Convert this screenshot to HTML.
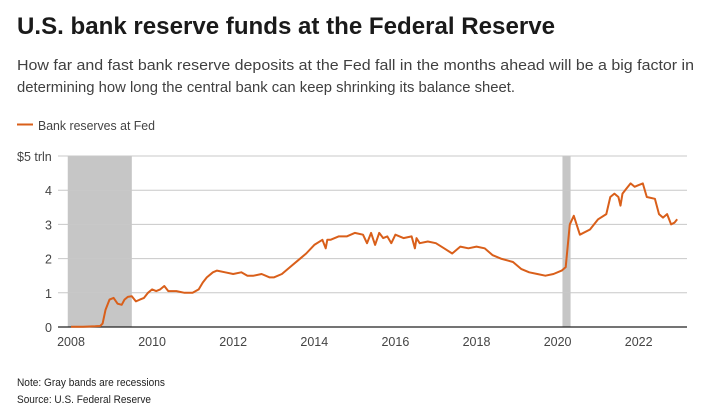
<!DOCTYPE html>
<html><head><meta charset="utf-8"><style>
html,body{margin:0;padding:0;background:#fff;}
svg{display:block;font-family:"Liberation Sans",sans-serif;}
</style></head><body>
<svg id="chart" width="705" height="417" xmlns="http://www.w3.org/2000/svg">
<text x="17" y="34" font-size="24" font-weight="bold" fill="#1a1a1a" textLength="538" lengthAdjust="spacingAndGlyphs">U.S. bank reserve funds at the Federal Reserve</text>
<text x="17" y="70" font-size="15" fill="#404040" textLength="677" lengthAdjust="spacingAndGlyphs">How far and fast bank reserve deposits at the Fed fall in the months ahead will be a big factor in</text>
<text x="17" y="92" font-size="15" fill="#404040" textLength="498" lengthAdjust="spacingAndGlyphs">determining how long the central bank can keep shrinking its balance sheet.</text>
<line x1="17" y1="124.5" x2="33" y2="124.5" stroke="#d95f1a" stroke-width="2"/>
<text x="38" y="130" font-size="12.5" fill="#444" textLength="117" lengthAdjust="spacingAndGlyphs">Bank reserves at Fed</text>
<g id="plot"></g>
<text x="17" y="386" font-size="11" fill="#222" textLength="148" lengthAdjust="spacingAndGlyphs">Note: Gray bands are recessions</text>
<text x="17" y="403" font-size="11" fill="#222" textLength="134" lengthAdjust="spacingAndGlyphs">Source: U.S. Federal Reserve</text>
</svg>
<script>
const years=[2008,2008.3,2008.6,2008.72,2008.78,2008.85,2008.95,2009.05,2009.15,2009.25,2009.32,2009.4,2009.5,2009.6,2009.7,2009.8,2009.9,2010.0,2010.1,2010.2,2010.3,2010.4,2010.5,2010.6,2010.8,2011.0,2011.15,2011.25,2011.35,2011.5,2011.6,2011.8,2012.0,2012.2,2012.35,2012.5,2012.7,2012.9,2013.0,2013.2,2013.4,2013.6,2013.8,2014.0,2014.2,2014.28,2014.32,2014.4,2014.6,2014.8,2015.0,2015.2,2015.3,2015.4,2015.5,2015.6,2015.7,2015.8,2015.9,2016.0,2016.2,2016.4,2016.48,2016.52,2016.6,2016.8,2017.0,2017.2,2017.4,2017.6,2017.8,2018.0,2018.2,2018.4,2018.6,2018.9,2019.1,2019.3,2019.5,2019.7,2019.9,2020.1,2020.2,2020.3,2020.4,2020.55,2020.8,2021.0,2021.2,2021.3,2021.4,2021.5,2021.55,2021.6,2021.7,2021.8,2021.9,2022.0,2022.1,2022.2,2022.4,2022.5,2022.6,2022.7,2022.8,2022.88,2022.95];
const reserves=[0.01,0.01,0.02,0.03,0.1,0.5,0.8,0.85,0.68,0.65,0.8,0.88,0.9,0.75,0.8,0.85,1.0,1.1,1.05,1.1,1.2,1.05,1.05,1.05,1.0,1.0,1.1,1.3,1.45,1.6,1.65,1.6,1.55,1.6,1.5,1.5,1.55,1.45,1.45,1.55,1.75,1.95,2.15,2.4,2.55,2.3,2.55,2.55,2.65,2.65,2.75,2.7,2.45,2.75,2.4,2.75,2.6,2.65,2.45,2.7,2.6,2.65,2.3,2.6,2.45,2.5,2.45,2.3,2.15,2.35,2.3,2.35,2.3,2.1,2.0,1.9,1.7,1.6,1.55,1.5,1.55,1.65,1.75,3.0,3.25,2.7,2.85,3.15,3.3,3.8,3.9,3.8,3.55,3.9,4.05,4.2,4.1,4.15,4.2,3.8,3.75,3.3,3.2,3.3,3.0,3.05,3.15];
const yTicks=[0,1,2,3,4,5];
const yTickLabels=["0","1","2","3","4","$5 trln"];
const xTicks=[2008,2010,2012,2014,2016,2018,2020,2022];
const recessionStarts=[2007.92,2020.12];
const recessionEnds=[2009.5,2020.32];
const NS="http://www.w3.org/2000/svg";
const X0=58,X1=687;
function xs(y){return 71+40.55*(y-2008);}
function ys(v){return 327-34.2*v;}
const g=document.getElementById('plot');
function mk(t,a){const e=document.createElementNS(NS,t);for(const k in a)e.setAttribute(k,a[k]);g.appendChild(e);return e;}
recessionStarts.forEach((s,i)=>{
  const r=mk('rect',{x:xs(s),y:ys(5),width:xs(recessionEnds[i])-xs(s),height:ys(0)-ys(5),fill:'#c6c6c6'});
  
  
});
yTicks.forEach((v,i)=>{
  if(v>0){const l=mk('line',{x1:X0,x2:X1,y1:ys(v),y2:ys(v),stroke:'#c8c8c8','stroke-width':1});
  
  }
  const t=mk('text',{x:v===5?17:52,y:ys(v)+5,'font-size':12.5,fill:'#444','text-anchor':v===5?'start':'end'});
  t.textContent=yTickLabels[i];
  
  
});
const ax=mk('line',{x1:X0,x2:X1,y1:ys(0),y2:ys(0),stroke:'#222','stroke-width':1.2});


xTicks.forEach(y=>{
  const t=mk('text',{x:xs(y),y:346,'font-size':12.5,fill:'#444','text-anchor':'middle'});
  t.textContent=String(y);
  
  
});
const d=years.map((y,i)=>(i?'L':'M')+xs(y).toFixed(1)+','+ys(reserves[i]).toFixed(1)).join('');
const p=mk('path',{d:d,fill:'none',stroke:'#d95f1a','stroke-width':2,'stroke-linejoin':'round'});


</script>
</body></html>
